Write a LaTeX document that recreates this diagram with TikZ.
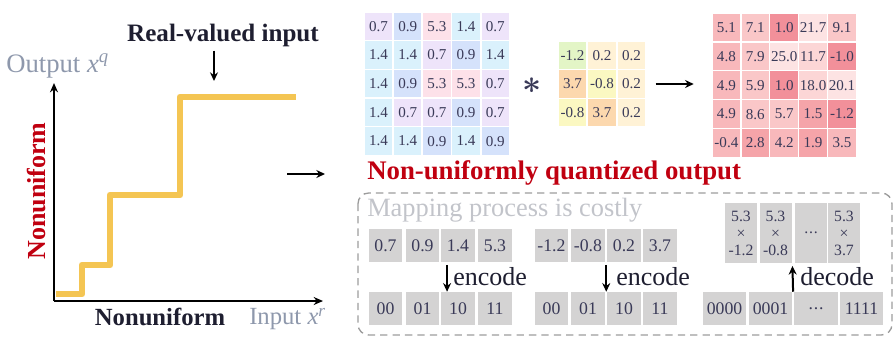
\documentclass[tikz,border=0pt]{standalone}
\usepackage{bm}
\usepackage{fontspec}
\setmainfont{Liberation Serif}
\usetikzlibrary{arrows.meta}
\definecolor{celltxt}{HTML}{3A3A58}
\definecolor{darktxt}{HTML}{1E1E30}
\definecolor{nured}{HTML}{C00010}
\definecolor{axgray}{HTML}{8E98AC}
\definecolor{mapgray}{HTML}{C2C4CA}
\definecolor{stair}{HTML}{F4C553}
\definecolor{cellgray}{HTML}{D4D3D3}
\definecolor{boxgray}{HTML}{9C9C9C}
\definecolor{lav}{HTML}{EEE4FA}
\definecolor{blu}{HTML}{D5E2FB}
\definecolor{cyn}{HTML}{DAF1FC}
\definecolor{pnk}{HTML}{FDE1E9}
\definecolor{kgr}{HTML}{E3F5C6}
\definecolor{kcr}{HTML}{FFF2D6}
\definecolor{kor}{HTML}{FCD8AE}
\definecolor{kye}{HTML}{FBF8C2}
\definecolor{ra}{HTML}{F2909A}
\definecolor{rb}{HTML}{F5A4A9}
\definecolor{rc}{HTML}{F8B8BB}
\definecolor{rd}{HTML}{FAC7C8}
\definecolor{re}{HTML}{FCD6D6}
\definecolor{rf}{HTML}{FDE3E3}
\newcommand{\mydots}{.\kern0.6pt.\kern0.6pt.}
\begin{document}
\begin{tikzpicture}[x=0.75pt,y=-0.75pt,
  cell/.style={minimum width=20.6pt,minimum height=20.6pt,inner sep=0pt,text=celltxt,font=\fontsize{11.3}{13}\selectfont},
  gcell/.style={fill=cellgray,text=celltxt,inner sep=0pt,minimum height=24.75pt,font=\fontsize{13.3}{15}\selectfont},
  arr/.style={-{Stealth[length=6.5pt,width=6pt]},line width=1.5pt,draw=black},
  axis/.style={-{Stealth[length=7pt,width=6pt]},line width=1.4pt,draw=black},
  stairline/.style={draw=stair,line width=5pt,line join=round},
  dbox/.style={draw=boxgray,dashed,dash pattern=on 5.5pt off 3.8pt,line width=1pt,rounded corners=8pt},
  lbl/.style={inner sep=0pt,text=darktxt}]
\useasboundingbox (0,0) rectangle (894,340);

% ---- chart ----
\draw[stairline] (56,294) -- (82,294) -- (82,265) -- (110,265) -- (110,195) -- (180,195) -- (180,97) -- (296,97);
\coordinate (O) at (54,301);
\coordinate (Ytop) at (54,83);
\coordinate (Xend) at (323,301);
\draw[axis] (O) -- (Ytop);
\draw[axis] (O) -- (Xend);
\node[lbl,font=\fontsize{18.8}{18.8}\selectfont\bfseries] (rvi) at (223,35) {Real-valued input};
\coordinate (rvtip) at (214,81);
\draw[arr] ([yshift=-3pt]rvi.south -| rvtip) -- (rvtip);
\node[lbl,anchor=west,text=axgray,font=\fontsize{20}{20}\selectfont] (outlbl) at (6,66) {Output \textit{x}\textsuperscript{\textit{q}}};
\node[lbl,anchor=west,text=axgray,font=\fontsize{18.5}{18.5}\selectfont] (inlbl) at (249,319) {Input \textit{x}\textsuperscript{\textit{r}}};
\node[lbl,font=\fontsize{18.5}{18.5}\selectfont\bfseries] (nub) at (160,317) {Nonuniform};
\node[lbl,rotate=90,text=nured,font=\fontsize{19.5}{19.5}\selectfont\bfseries] (nuv) at (37,191) {Nonuniform};
\coordinate (ma) at (287,174);
\coordinate (mb) at (325,174);
\draw[arr] (ma) -- (mb);

% ---- input matrix ----
\foreach \row [count=\r] in {
  {0.7/lav,0.9/blu,5.3/pnk,1.4/cyn,0.7/lav},
  {1.4/cyn,1.4/cyn,0.7/lav,0.9/blu,1.4/cyn},
  {1.4/cyn,0.9/blu,5.3/pnk,5.3/pnk,0.7/lav},
  {1.4/cyn,0.7/lav,0.7/lav,0.9/blu,0.7/lav},
  {1.4/cyn,1.4/cyn,0.9/blu,1.4/cyn,0.9/blu}}{
  \foreach \v/\c [count=\k] in \row {
    \node[cell,fill=\c] (A-\r-\k) at ({364+14.5+29.2*(\k-1)},{12+14.3+28.7*(\r-1)}) {\v};
  }
}
\node[inner sep=0pt,text=celltxt,font=\fontsize{24}{24}\selectfont] (star) at (532,86) {$\bm{\ast}$};

% ---- kernel ----
\foreach \row [count=\r] in {
  {-1.2/kgr,0.2/kcr,0.2/kcr},
  {3.7/kor,-0.8/kye,0.2/kcr},
  {-0.8/kye,3.7/kor,0.2/kcr}}{
  \foreach \v/\c [count=\k] in \row {
    \node[cell,fill=\c] (K-\r-\k) at ({558+14.5+29.5*(\k-1)},{41+14.3+28.7*(\r-1)}) {\v};
  }
}

% ---- output matrix ----
\foreach \row [count=\r] in {
  {5.1/rc,7.1/rd,1.0/ra,21.7/rf,9.1/rd},
  {4.8/rc,7.9/rd,25.0/rf,11.7/re,-1.0/ra},
  {4.9/rc,5.9/rd,1.0/ra,18.0/re,20.1/rf},
  {4.9/rc,8.6/rd,5.7/rd,1.5/rb,-1.2/ra},
  {-0.4/rc,2.8/rb,4.2/rc,1.9/rb,3.5/rc}}{
  \foreach \v/\c [count=\k] in \row {
    \node[cell,fill=\c] (C-\r-\k) at ({712+14.4+28.9*(\k-1)},{13+14.4+28.9*(\r-1)}) {\v};
  }
}
\draw[arr] ([xshift=7.5pt]K-2-3.east) -- ([xshift=-14pt]K-2-3.east -| C-3-1.west);

% ---- title and dashed box ----
\node[lbl,anchor=west,text=nured,font=\fontsize{20.1}{20.1}\selectfont\bfseries] (nuq) at (367,173) {Non-uniformly quantized output};
\draw[dbox] (358,193) rectangle (892,335);
\node[lbl,anchor=west,text=mapgray,font=\fontsize{19.8}{19.8}\selectfont] (map) at (367,210) {Mapping process is costly};

% group 1
\foreach \v/\x [count=\k] in {0.7/385.5,0.9/422.5,1.4/458,5.3/495}{
  \node[gcell,minimum width=25pt] (T1-\k) at (\x,245.5) {\v};
}
\foreach \v/\x [count=\k] in {00/385.5,01/422.5,10/458,11/495}{
  \node[gcell,minimum width=25pt] (B1-\k) at (\x,308.5) {\v};
}
\draw[arr] ([xshift=4.5pt,yshift=-2pt]T1-3.south west) -- ([xshift=4.5pt]B1-3.north west);
\node[lbl,anchor=west,font=\fontsize{19.5}{19.5}\selectfont] (enc1) at (453,277) {encode};

% group 2
\foreach \v/\x [count=\k] in {-1.2/551.5,-0.8/588,0.2/624,3.7/660}{
  \node[gcell,minimum width=25pt] (T2-\k) at (\x,245.5) {\v};
}
\foreach \v/\x [count=\k] in {00/551.5,01/588,10/624,11/660}{
  \node[gcell,minimum width=25pt] (B2-\k) at (\x,308.5) {\v};
}
\draw[arr] ([xshift=1pt,yshift=-2pt]T2-2.south east) -- ([xshift=1pt]B2-2.north east);
\node[lbl,anchor=west,font=\fontsize{19.5}{19.5}\selectfont] (enc2) at (616,277) {encode};

% group 3
\foreach \v/\x [count=\k] in {{5.3\\×\\-1.2}/741,{5.3\\×\\-0.8}/775.5,{\mydots}/811,{5.3\\×\\3.7}/844}{
  \node[gcell,minimum width=24pt,minimum height=45pt,align=center,font=\fontsize{11.8}{12.8}\selectfont] (T3-\k) at (\x,233) {\v};
}
\foreach \v/\x [count=\k] in {0000/724.5,0001/770.5,{\mydots}/816,1111/861.5}{
  \node[gcell,minimum width=32.5pt] (B3-\k) at (\x,308.5) {\v};
}
\draw[arr] ([xshift=0.5pt]B3-2.north east) -- ([xshift=0.5pt,yshift=-2pt]T3-2.south east);
\node[lbl,anchor=west,font=\fontsize{19.5}{19.5}\selectfont] (dec) at (800,277) {decode};
\end{tikzpicture}
\end{document}
